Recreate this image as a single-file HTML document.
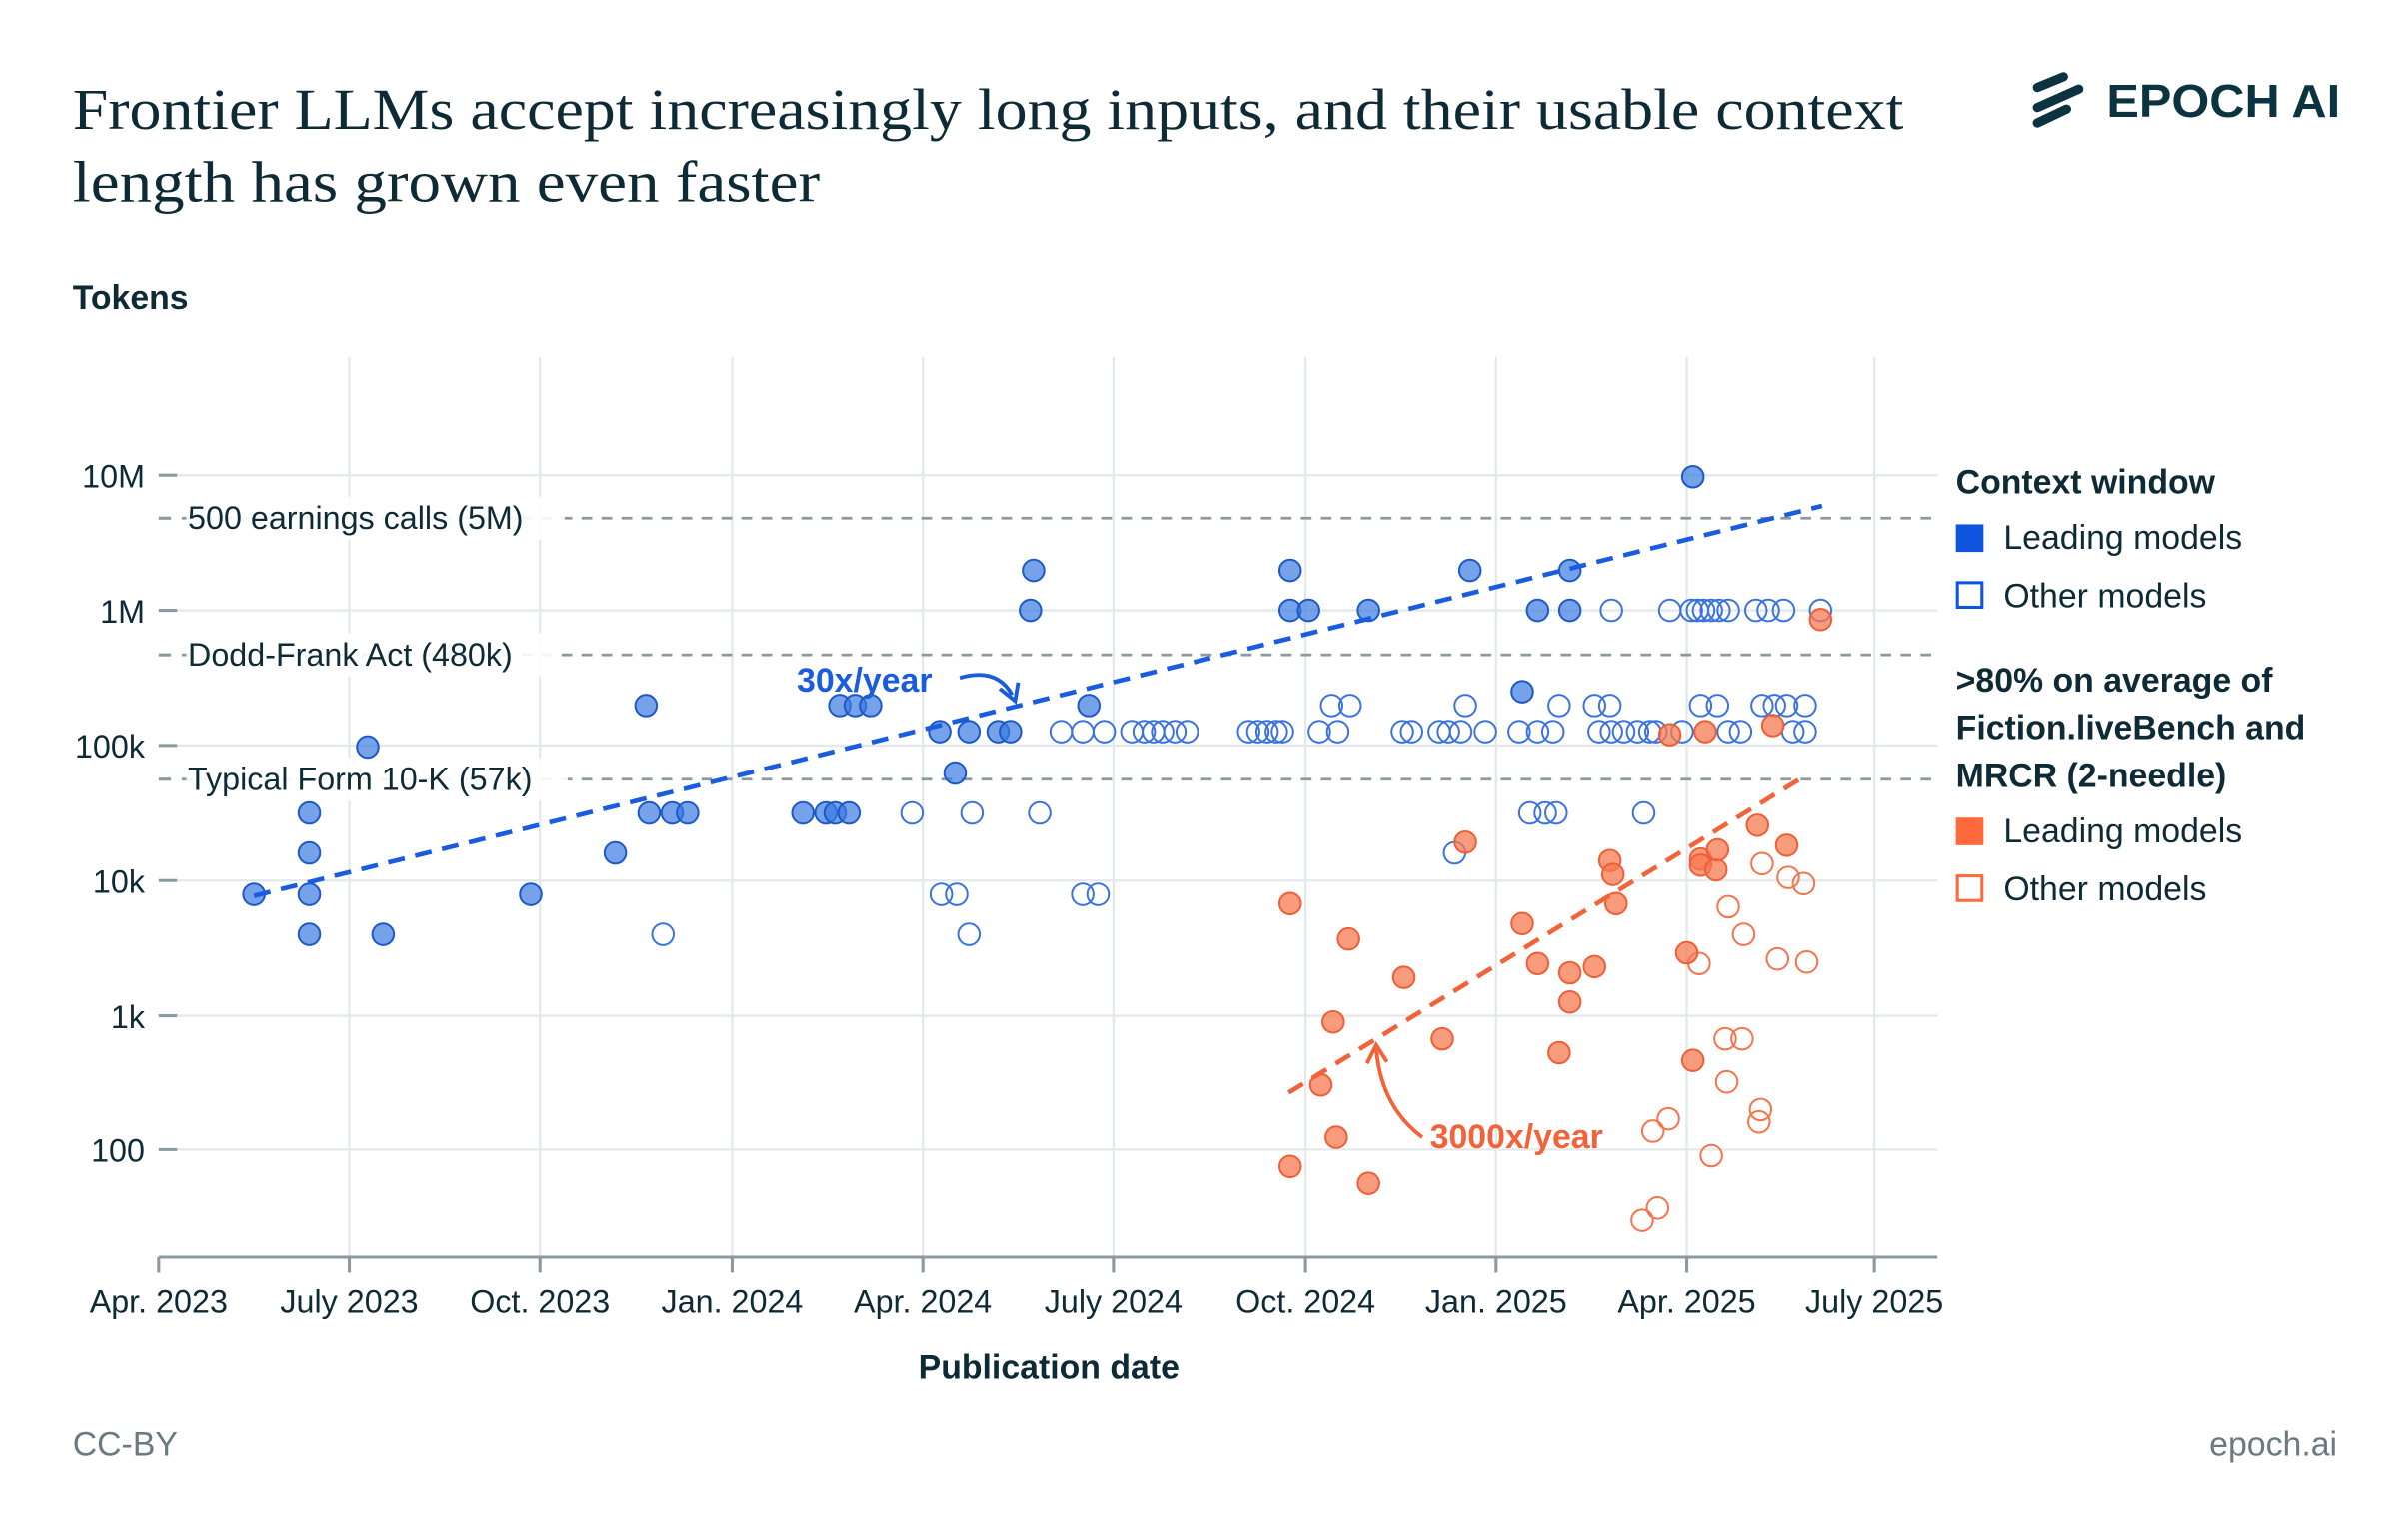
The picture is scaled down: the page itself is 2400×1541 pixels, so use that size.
<!DOCTYPE html>
<html><head><meta charset="utf-8"><style>
html,body{margin:0;padding:0;background:#fff;}
svg{display:block;}
text{font-family:"Liberation Sans",sans-serif;fill:#0d2a35;}
</style></head><body>
<svg width="2400" height="1541" viewBox="0 0 1560 1002" xmlns="http://www.w3.org/2000/svg">
<text x="47" y="84" textLength="1191" lengthAdjust="spacingAndGlyphs" style="font-family:'Liberation Serif',serif;font-size:38px">Frontier LLMs accept increasingly long inputs, and their usable context</text>
<text x="47" y="131" textLength="486" lengthAdjust="spacingAndGlyphs" style="font-family:'Liberation Serif',serif;font-size:38px">length has grown even faster</text>
<g stroke="#0b3440" stroke-width="6" stroke-linecap="round">
<line x1="1325" y1="57" x2="1342" y2="50"/><line x1="1325" y1="70" x2="1352" y2="58"/><line x1="1325" y1="80" x2="1344" y2="71"/></g>
<text x="1370" y="76" textLength="152" lengthAdjust="spacingAndGlyphs" style="font-size:30px;font-weight:bold;fill:#0b3440">EPOCH AI</text>
<text x="47" y="201" style="font-size:22px;font-weight:bold">Tokens</text>
<g stroke="#e3e9ea" stroke-width="1.5">
<line x1="227" y1="232" x2="227" y2="818"/><line x1="351" y1="232" x2="351" y2="818"/><line x1="476" y1="232" x2="476" y2="818"/><line x1="600" y1="232" x2="600" y2="818"/><line x1="724" y1="232" x2="724" y2="818"/><line x1="849" y1="232" x2="849" y2="818"/><line x1="973" y1="232" x2="973" y2="818"/><line x1="1097" y1="232" x2="1097" y2="818"/><line x1="1219" y1="232" x2="1219" y2="818"/>
<line x1="115" y1="309" x2="1260" y2="309"/><line x1="115" y1="397" x2="1260" y2="397"/><line x1="115" y1="485" x2="1260" y2="485"/><line x1="115" y1="573" x2="1260" y2="573"/><line x1="115" y1="661" x2="1260" y2="661"/><line x1="115" y1="748" x2="1260" y2="748"/>
</g>
<g stroke="#8a9a9e" stroke-width="1.8" stroke-dasharray="7,6">
<line x1="118" y1="337" x2="1260" y2="337"/><line x1="118" y1="426" x2="1260" y2="426"/><line x1="118" y1="507" x2="1260" y2="507"/></g>
<g stroke="#8a9a9e" stroke-width="2"><line x1="103" y1="337" x2="111" y2="337"/><line x1="103" y1="426" x2="111" y2="426"/><line x1="103" y1="507" x2="111" y2="507"/></g>
<g style="font-size:21px" fill="#0d2a35">
<rect x="121" y="323" width="246" height="28" fill="#fff" fill-opacity="0.9"/><text x="122" y="344">500 earnings calls (5M)</text>
<rect x="121" y="412" width="244" height="28" fill="#fff" fill-opacity="0.9"/><text x="122" y="433">Dodd-Frank Act (480k)</text>
<rect x="121" y="493" width="248" height="28" fill="#fff" fill-opacity="0.9"/><text x="122" y="514">Typical Form 10-K (57k)</text>
</g>
<g stroke="#8a9a9e" stroke-width="2"><line x1="103" y1="818" x2="1260" y2="818"/>
<line x1="103" y1="309" x2="115" y2="309"/><line x1="103" y1="397" x2="115" y2="397"/><line x1="103" y1="485" x2="115" y2="485"/><line x1="103" y1="573" x2="115" y2="573"/><line x1="103" y1="661" x2="115" y2="661"/><line x1="103" y1="748" x2="115" y2="748"/>
<line x1="103" y1="818" x2="103" y2="828"/><line x1="227" y1="818" x2="227" y2="828"/><line x1="351" y1="818" x2="351" y2="828"/><line x1="476" y1="818" x2="476" y2="828"/><line x1="600" y1="818" x2="600" y2="828"/><line x1="724" y1="818" x2="724" y2="828"/><line x1="849" y1="818" x2="849" y2="828"/><line x1="973" y1="818" x2="973" y2="828"/><line x1="1097" y1="818" x2="1097" y2="828"/><line x1="1219" y1="818" x2="1219" y2="828"/></g>
<g style="font-size:21px" text-anchor="end"><text x="94" y="317">10M</text><text x="94" y="405">1M</text><text x="94" y="493">100k</text><text x="94" y="581">10k</text><text x="94" y="669">1k</text><text x="94" y="756">100</text></g>
<g style="font-size:21px" text-anchor="middle"><text x="103" y="854">Apr. 2023</text><text x="227" y="854">July 2023</text><text x="351" y="854">Oct. 2023</text><text x="476" y="854">Jan. 2024</text><text x="600" y="854">Apr. 2024</text><text x="724" y="854">July 2024</text><text x="849" y="854">Oct. 2024</text><text x="973" y="854">Jan. 2025</text><text x="1097" y="854">Apr. 2025</text><text x="1219" y="854">July 2025</text>
<text x="682" y="897" style="font-weight:bold;font-size:22px">Publication date</text></g>
<g id="pts"></g>
<line x1="165" y1="583" x2="1185" y2="329" stroke="#1a5ce0" stroke-width="3" stroke-dasharray="11,7"/>
<line x1="838" y1="711" x2="1172" y2="506" stroke="#f2633a" stroke-width="3" stroke-dasharray="11,7"/>
<text x="518" y="450" style="font-size:22px;font-weight:bold;fill:#1a5ce0">30x/year</text>
<path d="M624,441 Q648,434 658,452" fill="none" stroke="#1a5ce0" stroke-width="2.5"/><path d="M650,448 L660,456 L662,444" fill="none" stroke="#1a5ce0" stroke-width="2.5"/>
<text x="930" y="747" style="font-size:22px;font-weight:bold;fill:#f2633a">3000x/year</text>
<path d="M925,740 Q898,720 895,682" fill="none" stroke="#f2633a" stroke-width="2.5"/><path d="M889,692 L895,680 L902,691" fill="none" stroke="#f2633a" stroke-width="2.5"/>
<g style="font-size:22px">
<text x="1272" y="321" style="font-weight:bold">Context window</text>
<rect x="1272" y="341" width="18" height="18" fill="#1055e0"/><text x="1303" y="357">Leading models</text>
<rect x="1273" y="379" width="16" height="16" fill="none" stroke="#1055e0" stroke-width="2"/><text x="1303" y="395">Other models</text>
<text x="1272" y="450" style="font-weight:bold">&gt;80% on average of</text>
<text x="1272" y="481" style="font-weight:bold">Fiction.liveBench and</text>
<text x="1272" y="512" style="font-weight:bold">MRCR (2-needle)</text>
<rect x="1272" y="532" width="18" height="18" fill="#ff6a3d"/><text x="1303" y="548">Leading models</text>
<rect x="1273" y="570" width="16" height="16" fill="none" stroke="#ff6a3d" stroke-width="2"/><text x="1303" y="586">Other models</text>
<text x="47" y="947" style="fill:#6a7a80">CC-BY</text>
<text x="1520" y="947" text-anchor="end" style="fill:#6a7a80">epoch.ai</text></g>
<script>
var g=document.getElementById('pts');
function add(list,fill,stroke,op){list.forEach(function(p){var c=document.createElementNS('http://www.w3.org/2000/svg','circle');c.setAttribute('cx',p[0]);c.setAttribute('cy',p[1]);c.setAttribute('r',7);c.setAttribute('fill',fill);c.setAttribute('fill-opacity',op);c.setAttribute('stroke',stroke);c.setAttribute('stroke-width',1.3);g.appendChild(c);});}
add([[1068,794],[1078,786],[1075,736],[1085,728],[1105,627],[1113,752],[1122,676],[1123,704],[1124,590],[1133,676],[1134,608],[1144,730],[1145,722],[1146,562],[1156,624],[1163,571],[1173,575],[1175,626]],'#fff','#f5744c',0);
add([[431,608],[593,529],[612,582],[622,582],[630,608],[632,529],[676,529],[690,476],[704,476],[704,582],[714,582],[718,476],[736,476],[744,476],[750,476],[756,476],[764,476],[772,476],[812,476],[818,476],[824,476],[830,476],[834,476],[858,476],[866,459],[870,476],[878,459],[912,476],[918,476],[936,476],[942,476],[946,555],[950,476],[953,459],[966,476],[988,476],[995,529],[1000,476],[1005,529],[1010,476],[1012,529],[1014,459],[1037,459],[1040,476],[1047,459],[1048,397],[1048,476],[1056,476],[1065,476],[1069,529],[1073,476],[1077,476],[1086,397],[1094,476],[1100,397],[1104,397],[1106,459],[1108,397],[1113,397],[1117,459],[1118,397],[1124,397],[1124,476],[1132,476],[1142,397],[1146,459],[1150,397],[1154,459],[1160,397],[1162,459],[1166,476],[1174,459],[1174,476],[1184,397]],'#fff','#3a72e0',0);
add([[165,582],[201,529],[201,555],[201,582],[201,608],[239,486],[249,608],[345,582],[400,555],[420,459],[422,529],[437,529],[447,529],[522,529],[537,529],[543,529],[552,529],[546,459],[556,459],[566,459],[611,476],[621,503],[630,476],[649,476],[657,476],[672,371],[670,397],[708,459],[839,371],[839,397],[851,397],[890,397],[956,371],[990,450],[1000,397],[1021,371],[1021,397],[1101,310]],'#3b7be0','#1d58c8',0.7);
add([[839,588],[839,759],[859,706],[867,665],[869,740],[877,611],[890,770],[913,636],[938,676],[953,548],[990,601],[1000,627],[1014,685],[1021,633],[1021,652],[1037,629],[1047,560],[1049,569],[1051,588],[1086,478],[1097,620],[1101,690],[1106,559],[1106,563],[1109,476],[1116,566],[1117,553],[1143,537],[1153,472],[1162,550],[1184,403]],'#f77a52','#ee5f35',0.75);
</script>
</svg>
</body></html>
